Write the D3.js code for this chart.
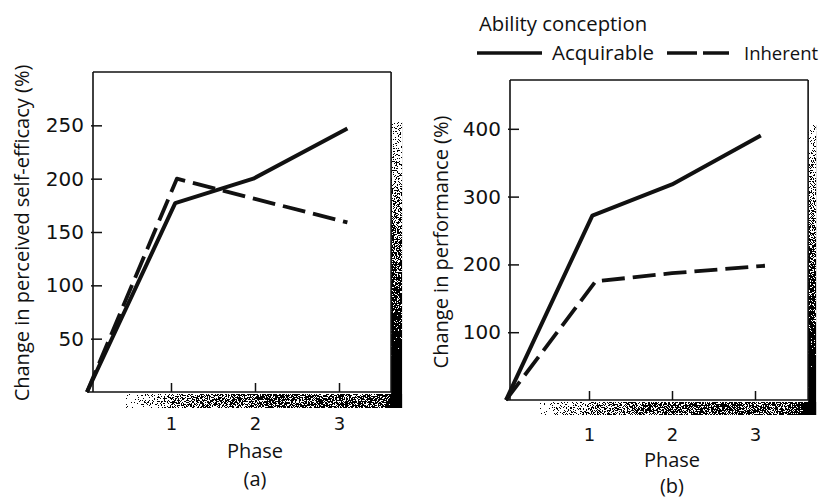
<!DOCTYPE html>
<html>
<head>
<meta charset="utf-8">
<script src="https://cdn.jsdelivr.net/npm/d3@7"></script>
<style>
  html, body { margin: 0; padding: 0; background: #fff; }
  svg { display: block; }
  text { fill: #111; }
</style>
</head>
<body>
<svg id="chart" width="822" height="498"></svg>
<script>
// Phase positions (in phase units) and percentage change for each series
const phasesA_acq = [0, 1.05, 1.98, 3.1];
const valuesA_acq = [0, 177, 200, 247];
const phasesA_inh = [0, 1.07, 2.0, 3.1];
const valuesA_inh = [0, 200, 181, 159];

const phasesB_acq = [0, 1.04, 2.0, 3.07];
const valuesB_acq = [0, 272, 318, 390];
const phasesB_inh = [0, 1.08, 2.0, 3.12];
const valuesB_inh = [0, 175, 187, 198];

const phaseTicks = [1, 2, 3];
const yTicksA = [50, 100, 150, 200, 250];
const yTicksB = [100, 200, 300, 400];

const seriesNames = ["Acquirable", "Inherent"];
const legendTitle = "Ability conception";

const ink = "#111";
const textFont = "'Open Sans', 'DejaVu Sans', sans-serif";
const numFont = "'DejaVu Sans', sans-serif";
const svg = d3.select("#chart");

// Speckled drop shadow: a grey gradient thresholded against fractal noise
const defs = svg.append("defs");
const grain = defs.append("filter").attr("id", "grain")
  .attr("x", 0).attr("y", 0).attr("width", 1).attr("height", 1)
  .attr("color-interpolation-filters", "sRGB");
grain.append("feTurbulence").attr("type", "fractalNoise")
  .attr("baseFrequency", 1.3).attr("numOctaves", 2).attr("seed", 7).attr("result", "noise");
grain.append("feColorMatrix").attr("in", "noise").attr("type", "matrix")
  .attr("values", "1 0 0 0 0 1 0 0 0 0 1 0 0 0 0 0 0 0 0 1").attr("result", "gray");
grain.append("feComposite").attr("in", "SourceGraphic").attr("in2", "gray")
  .attr("operator", "arithmetic").attr("k1", 0).attr("k2", 1).attr("k3", 1.6).attr("k4", -0.8)
  .attr("result", "mix");
const ct = grain.append("feComponentTransfer").attr("in", "mix").attr("result", "bw");
["feFuncR", "feFuncG", "feFuncB"].forEach(f => ct.append(f).attr("type", "discrete").attr("tableValues", "0 1"));
grain.append("feColorMatrix").attr("in", "bw").attr("type", "matrix")
  .attr("values", "0 0 0 0 0 0 0 0 0 0 0 0 0 0 0 -1 0 0 0 1").attr("result", "dots");
grain.append("feComposite").attr("in", "dots").attr("in2", "SourceAlpha").attr("operator", "in");

function gradient(id, vertical, stops) {
  const g = defs.append("linearGradient").attr("id", id)
    .attr("x1", 0).attr("y1", 0).attr("x2", vertical ? 0 : 1).attr("y2", vertical ? 1 : 0);
  stops.forEach(([o, v]) => g.append("stop").attr("offset", o)
    .attr("stop-color", d3.rgb(v * 255, v * 255, v * 255)));
}
gradient("shadeV", true, [[0, 0.72], [0.4, 0.46], [0.7, 0.3], [0.8, 0.1], [0.87, 0], [1, 0]]);
gradient("shadeH", false, [[0, 0.78], [0.2, 0.52], [0.6, 0.4], [0.9, 0.44], [0.955, 0.3], [0.96, 0], [1, 0]]);

function panel(cfg) {
  const g = svg.append("g");
  const x = d3.scaleLinear().domain([0, 3]).range([cfg.x0, cfg.x0 + 3 * cfg.unit]);
  const y = d3.scaleLinear().domain([0, cfg.yMax]).range([cfg.bottom, cfg.top]);
  const right = x(cfg.xMax);

  // shadow strips along the right and bottom edges of the frame
  g.append("rect").attr("x", right).attr("y", cfg.shadowTop)
    .attr("width", cfg.shadowW).attr("height", cfg.bottom + cfg.shadowH - cfg.shadowTop)
    .attr("fill", "url(#shadeV)").attr("filter", "url(#grain)");
  g.append("rect").attr("x", cfg.shadowLeft).attr("y", cfg.bottom + 2)
    .attr("width", right + cfg.shadowW - cfg.shadowLeft).attr("height", cfg.shadowH - 2)
    .attr("fill", "url(#shadeH)").attr("filter", "url(#grain)");

  // frame
  const frame = g.append("g").attr("stroke", ink).attr("stroke-width", 1.6).attr("fill", "none");
  frame.append("line").attr("x1", cfg.left).attr("x2", right).attr("y1", cfg.top).attr("y2", cfg.top);
  frame.append("line").attr("x1", right).attr("x2", right).attr("y1", cfg.top).attr("y2", cfg.bottom);
  frame.append("line").attr("x1", cfg.left).attr("x2", cfg.left).attr("y1", cfg.top).attr("y2", cfg.bottom);
  frame.append("line").attr("x1", x(0)).attr("x2", right).attr("y1", cfg.bottom).attr("y2", cfg.bottom);

  // y axis: ticks straddle the frame line
  const ya = g.append("g").attr("transform", `translate(${cfg.left},0)`)
    .call(d3.axisLeft(y).tickValues(cfg.yTicks).tickSize(-9).tickPadding(9));
  ya.select(".domain").remove();
  ya.selectAll(".tick line").attr("x1", -2).attr("stroke", ink).attr("stroke-width", 1.5);
  ya.selectAll(".tick text").attr("font-size", 20).style("font-family", numFont).attr("fill", ink);

  // x axis
  const xa = g.append("g").attr("transform", `translate(0,${cfg.bottom})`)
    .call(d3.axisBottom(x).tickValues(phaseTicks).tickSize(-9).tickPadding(cfg.xPad).tickFormat(d3.format("d")));
  xa.select(".domain").remove();
  xa.selectAll(".tick line").attr("stroke", ink).attr("stroke-width", 1.5);
  xa.selectAll(".tick text").attr("font-size", 18).style("font-family", numFont).attr("fill", ink);

  const lab = g.append("g").style("font-family", textFont).attr("font-size", 20);
  lab.append("text").attr("x", x(2)).attr("y", cfg.phaseY).attr("text-anchor", "middle").text("Phase");
  lab.append("text").attr("x", x(2)).attr("y", cfg.tagY).attr("text-anchor", "middle").text(cfg.tag);
  lab.append("text").attr("transform", `translate(${cfg.titleX},${cfg.titleY}) rotate(-90)`)
    .attr("text-anchor", "middle").text(cfg.title);

  const line = d3.line().x(d => x(d[0])).y(d => y(d[1]));
  const plot = g.append("g").attr("fill", "none").attr("stroke", ink).attr("stroke-width", 4)
    .attr("stroke-linejoin", "round");
  plot.append("path").attr("d", line(d3.zip(cfg.acqX, cfg.acqY)));
  plot.append("path").attr("d", line(d3.zip(cfg.inhX, cfg.inhY)))
    .attr("stroke-dasharray", "23,8").attr("stroke-width", 3.8);
}

panel({
  x0: 87, unit: 84, xMax: 3.62, left: 93, top: 72, bottom: 392, yMax: 300,
  yTicks: yTicksA, xPad: 25, phaseY: 458, tagY: 486, tag: "(a)",
  title: "Change in perceived self-efficacy (%)", titleX: 29, titleY: 233,
  shadowTop: 122, shadowW: 11, shadowH: 16, shadowLeft: 125,
  acqX: phasesA_acq, acqY: valuesA_acq, inhX: phasesA_inh, inhY: valuesA_inh
});

panel({
  x0: 506, unit: 83, xMax: 3.64, left: 510, top: 80, bottom: 400, yMax: 472,
  yTicks: yTicksB, xPad: 28, phaseY: 467, tagY: 493, tag: "(b)",
  title: "Change in performance (%)", titleX: 448, titleY: 242,
  shadowTop: 125, shadowW: 8, shadowH: 15, shadowLeft: 540,
  acqX: phasesB_acq, acqY: valuesB_acq, inhX: phasesB_inh, inhY: valuesB_inh
});

// legend
const leg = svg.append("g").style("font-family", textFont);
leg.append("text").attr("x", 479).attr("y", 31).attr("font-size", 20.3).text(legendTitle);
leg.append("line").attr("x1", 477).attr("x2", 542).attr("y1", 53).attr("y2", 53)
  .attr("stroke", ink).attr("stroke-width", 3.5);
leg.append("text").attr("x", 552).attr("y", 60).attr("font-size", 20.5).text(seriesNames[0]);
leg.append("line").attr("x1", 667).attr("x2", 729).attr("y1", 53).attr("y2", 53)
  .attr("stroke", ink).attr("stroke-width", 3.5).attr("stroke-dasharray", "30,6");
leg.append("text").attr("x", 744).attr("y", 60).attr("font-size", 18.5).text(seriesNames[1]);
</script>
</body>
</html>
